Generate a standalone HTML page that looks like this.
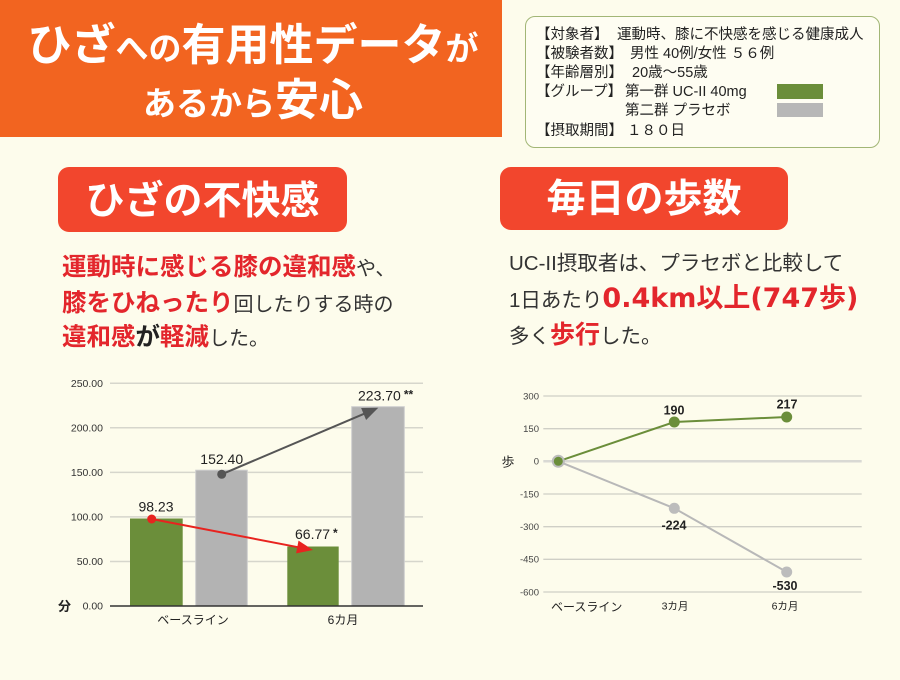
<!DOCTYPE html>
<html><head><meta charset="utf-8">
<style>
html,body{margin:0;padding:0;}
body{width:900px;height:680px;background:#fdfcec;position:relative;overflow:hidden;font-family:"Liberation Sans","Noto Sans CJK JP",sans-serif;color:#2a2a2a;}
.abs{position:absolute;white-space:nowrap;}
.hdr{left:0;top:0;width:502px;height:137px;background:#f26420;}
.t{color:#fff;font-weight:bold;text-align:center;width:506px;left:0;}
.leg{left:525px;top:16px;width:353px;height:130px;border:1.5px solid #a2b676;border-radius:10px;background:#fefdf2;}
.lg{font-size:14.5px;line-height:18px;color:#222;}
.pill{background:#f2462d;border-radius:11px;color:#fff;font-weight:bold;font-size:39px;text-align:center;}
.r{color:#e3262c;font-weight:bold;}
.k{color:#222;font-weight:bold;}
.n{color:#333;font-weight:normal;}
</style></head>
<body>
<div class="abs hdr"></div>
<div class="abs t" style="top:20px;height:52px;line-height:52px;"><span style="font-size:44px">ひざ</span><span style="font-size:33px">への</span><span style="font-size:44px">有用性データ</span><span style="font-size:33px">が</span></div>
<div class="abs t" style="top:75px;height:52px;line-height:52px;"><span style="font-size:33px">あるから</span><span style="font-size:44px">安心</span></div>

<div class="abs leg"></div>
<div class="abs lg" style="left:536px;top:26px;">【対象者】</div>
<div class="abs lg" style="left:617px;top:26px;">運動時、膝に不快感を感じる健康成人</div>
<div class="abs lg" style="left:536px;top:45px;">【被験者数】</div>
<div class="abs lg" style="left:630px;top:45px;">男性 40例/女性 ５６例</div>
<div class="abs lg" style="left:536px;top:64px;">【年齢層別】</div>
<div class="abs lg" style="left:632px;top:64px;">20歳～55歳</div>
<div class="abs lg" style="left:536px;top:83px;">【グループ】</div>
<div class="abs lg" style="left:625px;top:83px;">第一群 UC-II 40mg</div>
<div class="abs" style="left:777px;top:84px;width:46px;height:15px;background:#6b8e3a;"></div>
<div class="abs lg" style="left:625px;top:102px;">第二群 プラセボ</div>
<div class="abs" style="left:777px;top:103px;width:46px;height:14px;background:#b7b7b7;"></div>
<div class="abs lg" style="left:536px;top:122px;">【摂取期間】</div>
<div class="abs lg" style="left:627px;top:122px;">１８０日</div>

<div class="abs pill" style="left:58px;top:167px;width:289px;height:65px;line-height:70px;">ひざの不快感</div>
<div class="abs pill" style="left:500px;top:167px;width:288px;height:63px;line-height:65px;">毎日の歩数</div>

<div class="abs" style="left:62px;top:251px;height:34px;line-height:34px;"><span class="r" style="font-size:24.5px">運動時に感じる膝の違和感</span><span class="n" style="font-size:20px">や、</span></div>
<div class="abs" style="left:62px;top:287px;height:34px;line-height:34px;"><span class="r" style="font-size:24.5px">膝をひねったり</span><span class="n" style="font-size:20px">回したりする時の</span></div>
<div class="abs" style="left:62px;top:321px;height:34px;line-height:34px;"><span class="r" style="font-size:24.5px">違和感</span><span class="k" style="font-size:24.5px">が</span><span class="r" style="font-size:24.5px">軽減</span><span class="n" style="font-size:20px">した。</span></div>

<div class="abs" style="left:509px;top:248px;height:32px;line-height:32px;"><span class="n" style="font-size:20.5px">UC-II摂取者は、プラセボと比較して</span></div>
<div class="abs" style="left:509px;top:282px;height:34px;line-height:34px;"><span class="n" style="font-size:20.5px">1日あたり</span><span class="r" style="font-size:27px;font-family:'DejaVu Sans','Noto Sans CJK JP',sans-serif;">0.4km以上(747歩)</span></div>
<div class="abs" style="left:509px;top:318px;height:34px;line-height:34px;"><span class="n" style="font-size:20.5px">多く</span><span class="r" style="font-size:25px">歩行</span><span class="n" style="font-size:20.5px">した。</span></div>

<svg class="abs" style="left:0;top:0;" width="900" height="680" viewBox="0 0 900 680" xmlns="http://www.w3.org/2000/svg" font-family="Liberation Sans, Noto Sans CJK JP, sans-serif">
 <g stroke="#d6d6cc" stroke-width="1.5">
  <line x1="110" y1="383.3" x2="423" y2="383.3"/>
  <line x1="110" y1="427.8" x2="423" y2="427.8"/>
  <line x1="110" y1="472.4" x2="423" y2="472.4"/>
  <line x1="110" y1="516.9" x2="423" y2="516.9"/>
  <line x1="110" y1="561.5" x2="423" y2="561.5"/>
 </g>
 <g font-size="10.5" fill="#333" text-anchor="end">
  <text x="103" y="387">250.00</text>
  <text x="103" y="431.5">200.00</text>
  <text x="103" y="476">150.00</text>
  <text x="103" y="520.5">100.00</text>
  <text x="103" y="565">50.00</text>
  <text x="103" y="609.5">0.00</text>
 </g>
 <text x="58" y="611" font-size="13" font-weight="bold" fill="#222">分</text>
 <rect x="130" y="518.5" width="52.7" height="87.5" fill="#6b8e3a"/>
 <rect x="195.7" y="470.2" width="51.6" height="135.8" fill="#b3b3b3" stroke="#cdcdcd" stroke-width="1"/>
 <rect x="287.3" y="546.5" width="51.4" height="59.5" fill="#6b8e3a"/>
 <rect x="351.7" y="406.7" width="52.6" height="199.3" fill="#b3b3b3" stroke="#cdcdcd" stroke-width="1"/>
 <line x1="110" y1="606" x2="423" y2="606" stroke="#333" stroke-width="1.5"/>
 <g font-size="14" fill="#222">
  <text x="156" y="511.5" text-anchor="middle">98.23</text>
  <text x="221.7" y="464" text-anchor="middle">152.40</text>
  <text x="295" y="539">66.77<tspan font-size="12" font-weight="bold" dx="3" dy="-2">*</tspan></text>
  <text x="358" y="400.5">223.70<tspan font-size="12" font-weight="bold" dx="3" dy="-2">**</tspan></text>
 </g>
 <line x1="151.7" y1="519" x2="298" y2="547.2" stroke="#e8231f" stroke-width="2"/>
 <polygon points="313,550 296.1,553.4 298.5,540.6" fill="#e8231f"/>
 <circle cx="151.7" cy="519" r="4.5" fill="#e8231f"/>
 <line x1="221.7" y1="474.3" x2="364" y2="413.8" stroke="#555" stroke-width="2"/>
 <polygon points="378.3,407.7 366.1,420 361.1,408" fill="#555"/>
 <circle cx="221.7" cy="474.3" r="4.5" fill="#555"/>
 <g font-size="12" fill="#222" text-anchor="middle">
  <text x="193" y="624">ベースライン</text>
  <text x="343" y="624">6カ月</text>
 </g>

 <g stroke="#cfcfc6" stroke-width="1.3">
  <line x1="543.3" y1="396" x2="861.7" y2="396"/>
  <line x1="543.3" y1="428.7" x2="861.7" y2="428.7"/>
  <line x1="543.3" y1="494" x2="861.7" y2="494"/>
  <line x1="543.3" y1="526.7" x2="861.7" y2="526.7"/>
  <line x1="543.3" y1="559.3" x2="861.7" y2="559.3"/>
  <line x1="543.3" y1="592" x2="861.7" y2="592"/>
 </g>
 <line x1="543.3" y1="461.3" x2="861.7" y2="461.3" stroke="#d9d9d4" stroke-width="2.5"/>
 <g font-size="9.5" fill="#444" text-anchor="end">
  <text x="539" y="399.3">300</text>
  <text x="539" y="432">150</text>
  <text x="539" y="464.6">0</text>
  <text x="539" y="497.3">-150</text>
  <text x="539" y="530">-300</text>
  <text x="539" y="562.6">-450</text>
  <text x="539" y="595.3">-600</text>
 </g>
 <text x="501.5" y="466.5" font-size="13" fill="#222">歩</text>
 <polyline points="558.3,461.3 674.3,508.3 786.7,572" fill="none" stroke="#b8b8b8" stroke-width="2"/>
 <polyline points="558.3,461.3 674.3,422 786.7,417" fill="none" stroke="#6b8e3a" stroke-width="2"/>
 <circle cx="558.3" cy="461.3" r="6.5" fill="#bcbcbc"/>
 <circle cx="674.3" cy="508.3" r="5.5" fill="#bcbcbc"/>
 <circle cx="786.7" cy="572" r="5.5" fill="#bcbcbc"/>
 <circle cx="558.3" cy="461.3" r="4.5" fill="#6b8e3a"/>
 <circle cx="674.3" cy="422" r="5.5" fill="#6b8e3a"/>
 <circle cx="786.7" cy="417" r="5.5" fill="#6b8e3a"/>
 <g font-size="12.5" font-weight="bold" fill="#222" text-anchor="middle">
  <text x="674" y="414.5">190</text>
  <text x="787" y="408.5">217</text>
  <text x="674" y="529.5">-224</text>
  <text x="785" y="590">-530</text>
 </g>
 <text x="586.7" y="611" font-size="12" fill="#222" text-anchor="middle">ベースライン</text>
 <text x="675" y="609.5" font-size="10.5" fill="#222" text-anchor="middle">3カ月</text>
 <text x="785" y="609.5" font-size="10.5" fill="#222" text-anchor="middle">6カ月</text>
</svg>
</body></html>
